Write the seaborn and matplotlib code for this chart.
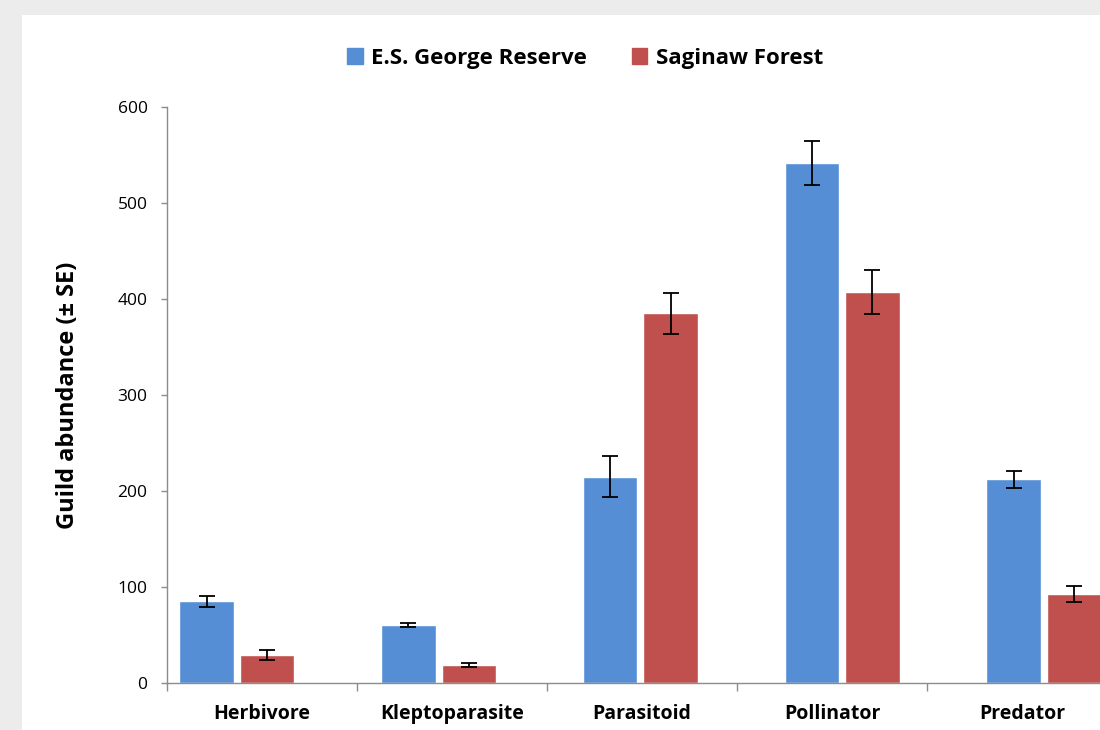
import numpy as np
import pandas as pd
import seaborn as sns
import matplotlib.pyplot as plt
from matplotlib.patches import Rectangle

# data
guilds = ['Herbivore', 'Kleptoparasite', 'Parasitoid', 'Pollinator', 'Predator']
sites = ['E.S. George Reserve', 'Saginaw Forest']
esgr_mean = [85, 60, 215, 542, 212]
esgr_se = [5.5, 2, 21, 23, 8.5]
sag_mean = [29, 19, 385, 407, 93]
sag_se = [5, 2, 21, 23, 8.5]
y_ticks = [0, 100, 200, 300, 400, 500, 600]

df = pd.DataFrame({
    'Guild': guilds * 2,
    'Site': [sites[0]] * len(guilds) + [sites[1]] * len(guilds),
    'Abundance': esgr_mean + sag_mean,
})

sns.set_style('white')
plt.rcParams['font.family'] = ['Open Sans', 'DejaVu Sans']
plt.rcParams['text.color'] = 'black'
plt.rcParams['xtick.color'] = 'black'
plt.rcParams['ytick.color'] = 'black'
plt.rcParams['axes.labelcolor'] = 'black'

fig = plt.figure(figsize=(11, 7.3), dpi=100, facecolor='#ececec')
# white panel inside the grey frame
fig.patches.append(Rectangle((0.02, 0), 1, 0.9795, transform=fig.transFigure,
                             facecolor='white', edgecolor='none', zorder=-1))
ax = fig.add_axes([0.1518, 0.0644, 0.8636, 0.789])
ax.set_zorder(1)
ax.patch.set_alpha(0)

colors = ['#558ED5', '#C0504D']
sns.barplot(data=df, x='Guild', y='Abundance', hue='Site', palette=colors,
            width=0.6, gap=0.1, saturation=1, legend=False, ax=ax)

# error bars (± SE) on top of the seaborn bars
for cont, se in zip(ax.containers, [esgr_se, sag_se]):
    xs = [b.get_x() + b.get_width() / 2 for b in cont]
    hs = [b.get_height() for b in cont]
    ax.errorbar(xs, hs, yerr=se, fmt='none', ecolor='black',
                elinewidth=1.3, capsize=6, capthick=1.3, zorder=5)

# category labels in the original sit on a slightly narrower grid than the bars
step = 0.9418
start = -0.347
ax.set_xlim(start, start + step * len(guilds))
ax.set_xticks([start + step * (i + 0.5) for i in range(len(guilds))])
ax.set_xticklabels(guilds, fontsize=14, fontweight='bold')
ax.set_xticks([start + step * i for i in range(len(guilds) + 1)], minor=True)
ax.tick_params(axis='x', which='major', length=0, pad=15)
ax.tick_params(axis='x', which='minor', length=6, width=1, color='#8c8c8c',
               direction='out', bottom=True)

ax.set_ylim(0, 600)
ax.set_yticks(y_ticks)
ax.tick_params(axis='y', length=4, width=1, color='#8c8c8c', direction='out',
               left=True, labelsize=12.5, pad=10)

for side in ['top', 'right']:
    ax.spines[side].set_visible(False)
for side in ['left', 'bottom']:
    ax.spines[side].set_color('#8c8c8c')
    ax.spines[side].set_linewidth(1)

ax.set_xlabel('')
ax.set_ylabel('Guild abundance (± SE)', fontsize=17, fontweight='bold')
ax.yaxis.set_label_coords(-0.0915, 0.5)

handles = [Rectangle((0, 0), 1, 1, color=c) for c in colors]
fig.legend(handles, sites, loc='center', bbox_to_anchor=(0.532, 0.92), ncol=2,
           frameon=False, handlelength=0.7, handleheight=0.7, handletextpad=0.4,
           columnspacing=2.0, prop={'size': 16, 'weight': 'bold'})

fig.savefig('out.png', dpi=100, facecolor=fig.get_facecolor())
